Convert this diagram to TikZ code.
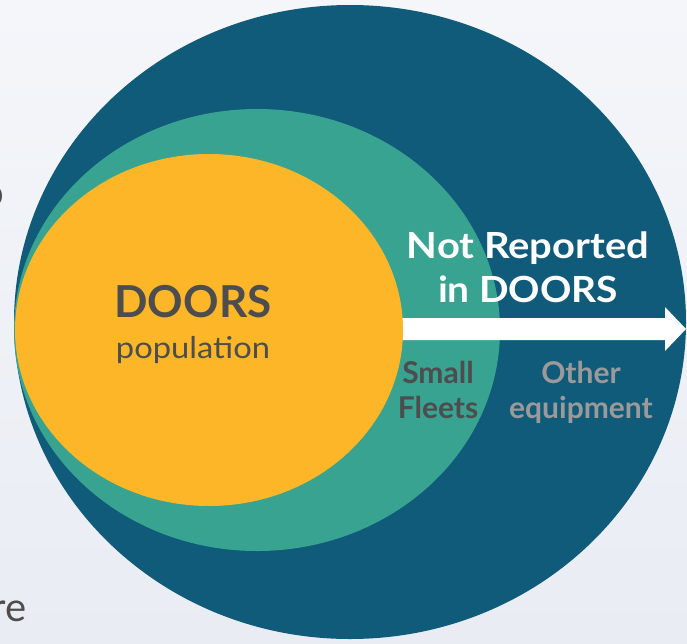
\documentclass[tikz,border=0pt]{standalone}
\usepackage{fontspec}
\setmainfont{Lato}
\usetikzlibrary{shapes.geometric}
\definecolor{bgcol}{HTML}{E9ECF3}
\definecolor{bglight}{HTML}{F4F6FA}
\definecolor{outerblue}{HTML}{105A7A}
\definecolor{teal}{HTML}{37A390}
\definecolor{doorsyellow}{HTML}{FDB627}
\definecolor{darktext}{HTML}{4D4D4F}
\definecolor{greytext}{HTML}{9A9A9A}
\tikzset{
  label/.style={inner sep=0pt, anchor=base, align=center},
  darklabel/.style={label, text=darktext},
  wide/.style={font=\addfontfeatures{FakeStretch=1.1}},
}
\begin{document}
\begin{tikzpicture}[x=1pt,y=-1pt]
  % canvas
  \useasboundingbox (0,0) rectangle (687,643);
  \clip (0,0) rectangle (687,643);
  \shade[top color=bglight, bottom color=bgcol] (0,0) rectangle (687,643);

  % slide text cut off at the left edge
  \node[label, anchor=base east, text=darktext, font=\fontsize{40}{40}\selectfont] (leftA) at (4,206) {o};
  \node[label, anchor=base east, text=darktext, font=\fontsize{40}{40}\selectfont] (leftB) at (27,621) {re};

  % nested populations
  \fill[outerblue] (350,322) ellipse [x radius=336pt, y radius=317pt];
  \fill[teal] (257,330) ellipse [x radius=243pt, y radius=221pt];

  % arrow pointing out of the reported population
  \fill[white] (300,318) -- (665,318) -- (665,307) -- (686,329) -- (665,351) -- (665,340) -- (300,340) -- cycle;

  \fill[doorsyellow] (209,330) ellipse [x radius=194pt, y radius=176pt];

  % labels
  \node[darklabel, font=\bfseries\fontsize{44}{44}\selectfont] (doors) at (193,317) {DOORS};
  \node[darklabel, font=\fontsize{30}{30}\selectfont\addfontfeatures{FakeStretch=1.09}] (pop) at (193,358) {population};

  \node[label, text=white, font=\bfseries\fontsize{36}{44}\selectfont\addfontfeatures{FakeStretch=1.11}] (nr1) at (528,258) {Not Reported};
  \node[label, text=white, font=\bfseries\fontsize{36}{44}\selectfont\addfontfeatures{FakeStretch=1.08}] (nr2) at (528,302) {in DOORS};

  \node[darklabel, font=\bfseries\fontsize{30}{35}\selectfont] (sf1) at (438,383) {Small};
  \node[darklabel, font=\bfseries\fontsize{30}{35}\selectfont] (sf2) at (438,418) {Fleets};

  \node[label, text=greytext, font=\bfseries\fontsize{30}{35}\selectfont] (oe1) at (581,383) {Other};
  \node[label, text=greytext, font=\bfseries\fontsize{30}{35}\selectfont] (oe2) at (581,418) {equipment};
\end{tikzpicture}
\end{document}
